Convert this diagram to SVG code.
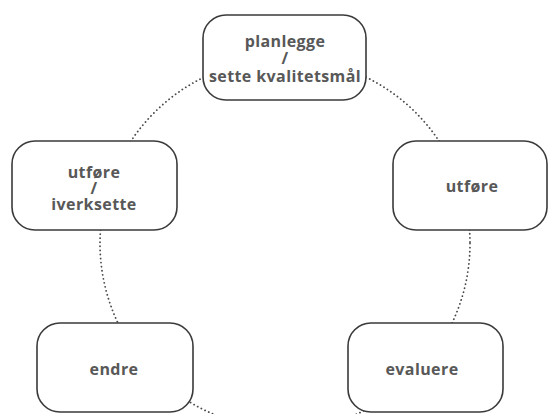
<svg xmlns="http://www.w3.org/2000/svg" width="551" height="414" viewBox="0 0 551 414">
<style>
.box{fill:#fff;stroke:#3a3a3a;stroke-width:1.6}
.lbl{font-family:"Open Sans","Liberation Sans",sans-serif;font-weight:700;font-size:16px;letter-spacing:0.4px;fill:#585858;text-anchor:middle}
.dots{fill:none;stroke:#4a4a4a;stroke-width:1.8;stroke-dasharray:0.1 4;stroke-linecap:round}
</style>
<rect width="551" height="414" fill="#fff"/>
<g id="connectors">
<circle class="dots" cx="285" cy="243.5" r="185"/>
</g>
<g id="planlegge">
<rect class="box" x="203" y="15" width="163" height="85" rx="23"/>
<text class="lbl"><tspan x="285" y="47">planlegge</tspan><tspan x="285" y="64">/</tspan><tspan x="285" y="82">sette kvalitetsmål</tspan></text>
</g>
<g id="utfore-iverksette">
<rect class="box" x="12" y="141" width="165" height="89" rx="23"/>
<text class="lbl"><tspan x="94" y="178">utføre</tspan><tspan x="94" y="194">/</tspan><tspan x="94" y="210">iverksette</tspan></text>
</g>
<g id="utfore">
<rect class="box" x="393" y="141" width="154" height="89" rx="23"/>
<text class="lbl" x="472" y="192">utføre</text>
</g>
<g id="endre">
<rect class="box" x="37" y="323" width="156" height="89" rx="23"/>
<text class="lbl" x="114" y="375">endre</text>
</g>
<g id="evaluere">
<rect class="box" x="348" y="323" width="155" height="89" rx="23"/>
<text class="lbl" x="422" y="375">evaluere</text>
</g>
</svg>
